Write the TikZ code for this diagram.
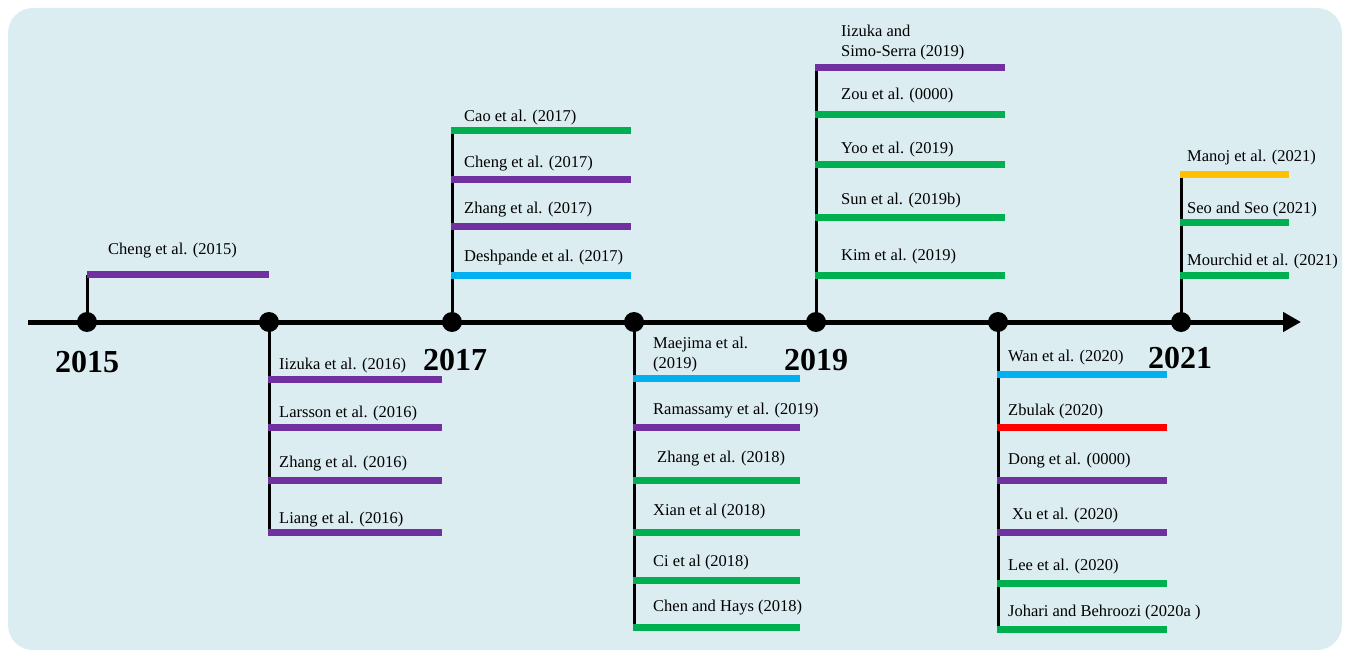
\documentclass[tikz,border=0pt]{standalone}
\usepackage{fontspec}
\setmainfont{Liberation Serif}
\usetikzlibrary{arrows.meta}
\definecolor{panel}{RGB}{220,237,242}
\definecolor{cpurple}{RGB}{112,48,160}
\definecolor{cgreen}{RGB}{0,176,80}
\definecolor{cblue}{RGB}{0,176,240}
\definecolor{cred}{RGB}{255,0,0}
\definecolor{cyellow}{RGB}{255,192,0}
\begin{document}
\begin{tikzpicture}[x=1pt,y=-1pt,
  bar/.style={line width=7pt},
  stem/.style={line width=3pt,black},
  lbl/.style={anchor=west,inner sep=0pt,yshift=-2.5pt,align=left,font=\rmfamily\fontsize{16.5}{20}\selectfont},
  yr/.style={inner sep=0pt,font=\rmfamily\bfseries\fontsize{32}{34}\selectfont},
  dot/.style={circle,fill=black,minimum size=20pt,inner sep=0pt}]
\useasboundingbox (0,0) rectangle (1350,655);
\fill[panel,rounded corners=25pt] (8,8) rectangle (1342,650);

% time axis
\coordinate (axL) at (28,322);
\coordinate (axR) at (1301,322);
\draw[line width=5pt,-{Triangle[length=18pt,width=19pt]}] (axL) -- (axR);

% milestones on the axis
\foreach \n/\x in {d15/87,d16/269,d17/452,d18/634,d19/816,d20/998,d21/1181}
  \node[dot] (\n) at (\x,322) {};

% year captions
\node[yr] (y15) at (87,362) {2015};
\node[yr] (y17) at (455,360) {2017};
\node[yr] (y19) at (816,360) {2019};
\node[yr] (y21) at (1180,358) {2021};

% 2015 (above)
\coordinate (s15) at (87,275);
\coordinate (e15) at (269,275);
\draw[stem] (d15.center) -- (s15);
\draw[bar,cpurple] (s15) -- (e15);
\node[lbl] (t15) at (108,248) {Cheng et al. (2015)};

% 2016 (below)
\draw[stem] (d16.center) -- (269,532) coordinate (s16);
\foreach \y/\ly/\c/\t [count=\i] in {
  379/363/cpurple/Iizuka et al. (2016),
  427/411/cpurple/Larsson et al. (2016),
  480/461/cpurple/Zhang et al. (2016),
  532/517/cpurple/Liang et al. (2016)} {
  \coordinate (a16-\i) at (268,\y);
  \coordinate (b16-\i) at (442,\y);
  \draw[bar,\c] (a16-\i) -- (b16-\i);
  \node[lbl] (l16-\i) at (279,\ly) {\t};
}

% 2017 (above)
\draw[stem] (d17.center) -- (452,131) coordinate (s17);
\foreach \y/\ly/\c/\t [count=\i] in {
  131/115/cgreen/Cao et al. (2017),
  180/161/cpurple/Cheng et al. (2017),
  227/207/cpurple/Zhang et al. (2017),
  276/255/cblue/Deshpande et al. (2017)} {
  \coordinate (a17-\i) at (451,\y);
  \coordinate (b17-\i) at (631,\y);
  \draw[bar,\c] (a17-\i) -- (b17-\i);
  \node[lbl] (l17-\i) at (464,\ly) {\t};
}

% 2018 (below)
\draw[stem] (d18.center) -- (634,627) coordinate (s18);
\foreach \y/\ly/\lx/\c/\t [count=\i] in {
  378/352/653/cblue/{Maejima et al.\\(2019)},
  427/408/653/cpurple/Ramassamy et al. (2019),
  480/456/657/cgreen/Zhang et al. (2018),
  532/509/653/cgreen/Xian et al (2018),
  580/560/653/cgreen/Ci et al (2018),
  627/605/653/cgreen/Chen and Hays (2018)} {
  \coordinate (a18-\i) at (633,\y);
  \coordinate (b18-\i) at (800,\y);
  \draw[bar,\c] (a18-\i) -- (b18-\i);
  \node[lbl] (l18-\i) at (\lx,\ly) {\t};
}

% 2019 (above)
\draw[stem] (d19.center) -- (816,68) coordinate (s19);
\foreach \y/\ly/\c/\t [count=\i] in {
  68/40/cpurple/{Iizuka and\\Simo-Serra (2019)},
  115/93/cgreen/Zou et al. (0000),
  165/147/cgreen/Yoo et al. (2019),
  218/198/cgreen/Sun et al. (2019b),
  276/254/cgreen/Kim et al. (2019)} {
  \coordinate (a19-\i) at (815,\y);
  \coordinate (b19-\i) at (1005,\y);
  \draw[bar,\c] (a19-\i) -- (b19-\i);
  \node[lbl] (l19-\i) at (841,\ly) {\t};
}

% 2020 (below)
\draw[stem] (d20.center) -- (998,629) coordinate (s20);
\foreach \y/\ly/\lx/\c/\t [count=\i] in {
  374/355/1008/cblue/Wan et al. (2020),
  427/409/1008/cred/Zbulak (2020),
  480/458/1008/cpurple/Dong et al. (0000),
  532/513/1012/cpurple/Xu et al. (2020),
  583/564/1008/cgreen/Lee et al. (2020),
  629/610/1008/cgreen/Johari and Behroozi (2020a )} {
  \coordinate (a20-\i) at (997,\y);
  \coordinate (b20-\i) at (1167,\y);
  \draw[bar,\c] (a20-\i) -- (b20-\i);
  \node[lbl] (l20-\i) at (\lx,\ly) {\t};
}

% 2021 (above)
\draw[stem] (d21.center) -- (1181,175) coordinate (s21);
\foreach \y/\ly/\c/\t [count=\i] in {
  175/155/cyellow/Manoj et al. (2021),
  223/207/cgreen/Seo and Seo (2021),
  276/259/cgreen/Mourchid et al. (2021)} {
  \coordinate (a21-\i) at (1180,\y);
  \coordinate (b21-\i) at (1289,\y);
  \draw[bar,\c] (a21-\i) -- (b21-\i);
  \node[lbl] (l21-\i) at (1187,\ly) {\t};
}
\end{tikzpicture}
\end{document}
